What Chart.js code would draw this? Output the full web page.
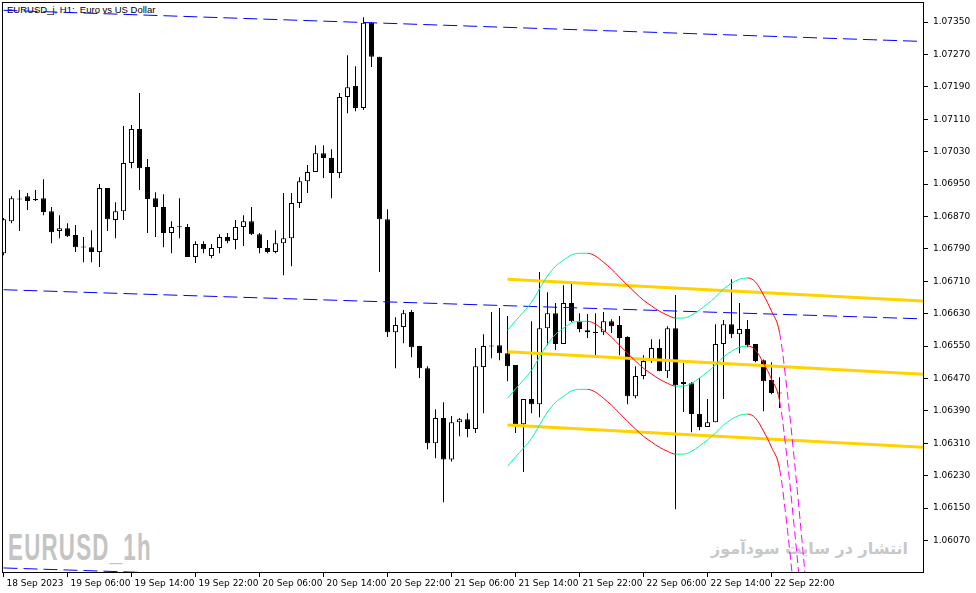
<!DOCTYPE html>
<html lang="en">
<head>
  <meta charset="UTF-8" />
  <title>EURUSD_j, H1</title>
  <script src="https://cdn.jsdelivr.net/npm/chart.js"></script>
  <style>
    * { box-sizing: border-box; }
    body { margin: 0; background: #fff; }
    #wrap { position: relative; width: 976px; height: 593px; overflow: hidden; }
    #wrap canvas { position: absolute; left: 0; top: 0; z-index: 2; }
    .txt { position: absolute; white-space: pre; z-index: 1; }
    #titulo { left: 7px; top: 4px; font: 9.5px 'Liberation Sans', sans-serif; color: #000; }
    #marca { left: 8px; top: 527px; font: bold 36px 'Liberation Sans', sans-serif; color: #c4c4c4;
             transform: scaleX(0.62); transform-origin: left top; letter-spacing: 2px; }
    #sitio { right: 68px; top: 539px; font: bold 16px 'DejaVu Sans', sans-serif; color: #c8c8c8; direction: rtl; }
  </style>
</head>
<body>
  <div id="wrap">
    <div class="txt" id="titulo">EURUSD_j, H1:  Euro vs US Dollar</div>
    <div class="txt" id="marca">EURUSD_1h</div>
    <div class="txt" id="sitio">انتشار در سایت سودآموز</div>
    <canvas id="grafico" width="976" height="593"></canvas>
  </div>

  <script>
    // hourly bars, index 0 = 18 Sep 2023 22:00
    const etiquetasTiempo = ['18 Sep 2023', '19 Sep 06:00', '19 Sep 14:00', '19 Sep 22:00', '20 Sep 06:00',
      '20 Sep 14:00', '20 Sep 22:00', '21 Sep 06:00', '21 Sep 14:00', '21 Sep 22:00', '22 Sep 06:00',
      '22 Sep 14:00', '22 Sep 22:00'];
    const indicesTiempo = [0, 8, 16, 24, 32, 40, 48, 56, 64, 72, 80, 88, 96];
    const ticksPrecio = [1.06070, 1.06150, 1.06230, 1.06310, 1.06390, 1.06470, 1.06550, 1.06630, 1.06710,
      1.06790, 1.06870, 1.06950, 1.07030, 1.07110, 1.07190, 1.07270, 1.07350];

    const apertura = [
      1.06779, 1.06858, 1.06913, 1.06920, 1.06913, 1.06915, 1.06883, 1.06834, 1.06841, 1.06824,
      1.06794, 1.06794, 1.06782, 1.06940, 1.06861, 1.06883, 1.07002, 1.07086, 1.06992, 1.06915,
      1.06893, 1.06829, 1.06844, 1.06844, 1.06770, 1.06802, 1.06772, 1.06792, 1.06819, 1.06812,
      1.06844, 1.06858, 1.06826, 1.06792, 1.06782, 1.06804, 1.06816, 1.06903, 1.06957, 1.06980,
      1.07026, 1.07014, 1.06977, 1.07165, 1.07192, 1.07138, 1.07348, 1.07264, 1.06863, 1.06584,
      1.06597, 1.06634, 1.06550, 1.06495, 1.06310, 1.06372, 1.06270, 1.06362, 1.06369, 1.06345,
      1.06498, 1.06550, 1.06552, 1.06532, 1.06503, 1.06357, 1.06419, 1.06406, 1.06594, 1.06631,
      1.06555, 1.06656, 1.06611, 1.06589, 1.06584, 1.06584, 1.06611, 1.06602, 1.06572, 1.06426,
      1.06476, 1.06513, 1.06545, 1.06488, 1.06594, 1.06456, 1.06458, 1.06382, 1.06350, 1.06362,
      1.06555, 1.06604, 1.06579, 1.06592, 1.06555, 1.06515, 1.06466, 1.06434];
    const maximo = [
      1.06866, 1.06920, 1.06935, 1.06928, 1.06935, 1.06962, 1.06893, 1.06873, 1.06853, 1.06849,
      1.06819, 1.06836, 1.06950, 1.06940, 1.06905, 1.07093, 1.07096, 1.07175, 1.07012, 1.06930,
      1.06925, 1.06858, 1.06915, 1.06851, 1.06809, 1.06809, 1.06802, 1.06826, 1.06829, 1.06861,
      1.06873, 1.06893, 1.06829, 1.06812, 1.06836, 1.06928, 1.06928, 1.06967, 1.06997, 1.07046,
      1.07046, 1.07036, 1.07175, 1.07268, 1.07241, 1.07362, 1.07350, 1.07264, 1.06888, 1.06621,
      1.06639, 1.06639, 1.06550, 1.06500, 1.06394, 1.06411, 1.06377, 1.06372, 1.06384, 1.06545,
      1.06579, 1.06634, 1.06644, 1.06624, 1.06503, 1.06419, 1.06611, 1.06733, 1.06683, 1.06656,
      1.06700, 1.06705, 1.06631, 1.06629, 1.06631, 1.06634, 1.06616, 1.06624, 1.06574, 1.06500,
      1.06527, 1.06567, 1.06567, 1.06599, 1.06676, 1.06508, 1.06461, 1.06471, 1.06419, 1.06604,
      1.06614, 1.06715, 1.06656, 1.06614, 1.06555, 1.06517, 1.06510, 1.06473];
    const minimo = [
      1.06774, 1.06853, 1.06834, 1.06886, 1.06908, 1.06873, 1.06804, 1.06816, 1.06819, 1.06782,
      1.06757, 1.06757, 1.06745, 1.06834, 1.06816, 1.06861, 1.06989, 1.06935, 1.06829, 1.06819,
      1.06794, 1.06779, 1.06816, 1.06770, 1.06755, 1.06779, 1.06767, 1.06779, 1.06804, 1.06789,
      1.06797, 1.06824, 1.06779, 1.06779, 1.06779, 1.06725, 1.06747, 1.06891, 1.06928, 1.06980,
      1.06965, 1.06915, 1.06965, 1.07125, 1.07130, 1.07133, 1.07239, 1.06733, 1.06572, 1.06495,
      1.06557, 1.06522, 1.06471, 1.06295, 1.06273, 1.06164, 1.06265, 1.06327, 1.06325, 1.06335,
      1.06384, 1.06520, 1.06515, 1.06463, 1.06335, 1.06239, 1.06384, 1.06374, 1.06552, 1.06540,
      1.06555, 1.06609, 1.06584, 1.06570, 1.06525, 1.06577, 1.06582, 1.06527, 1.06406, 1.06421,
      1.06468, 1.06508, 1.06488, 1.06471, 1.06147, 1.06387, 1.06337, 1.06342, 1.06350, 1.06362,
      1.06419, 1.06570, 1.06532, 1.06547, 1.06510, 1.06389, 1.06431, 1.06397];
    const cierre = [
      1.06863, 1.06915, 1.06912, 1.06908, 1.06910, 1.06881, 1.06831, 1.06841, 1.06821, 1.06794,
      1.06793, 1.06782, 1.06940, 1.06863, 1.06883, 1.07002, 1.07086, 1.06989, 1.06913, 1.06893,
      1.06829, 1.06844, 1.06843, 1.06770, 1.06802, 1.06789, 1.06792, 1.06819, 1.06809, 1.06844,
      1.06858, 1.06826, 1.06792, 1.06782, 1.06804, 1.06816, 1.06903, 1.06957, 1.06980, 1.07026,
      1.07014, 1.06977, 1.07165, 1.07189, 1.07138, 1.07348, 1.07264, 1.06863, 1.06584, 1.06602,
      1.06631, 1.06547, 1.06495, 1.06310, 1.06372, 1.06270, 1.06362, 1.06369, 1.06345, 1.06500,
      1.06550, 1.06549, 1.06532, 1.06500, 1.06357, 1.06419, 1.06406, 1.06594, 1.06631, 1.06555,
      1.06656, 1.06611, 1.06592, 1.06584, 1.06582, 1.06611, 1.06599, 1.06570, 1.06426, 1.06476,
      1.06513, 1.06545, 1.06488, 1.06594, 1.06453, 1.06461, 1.06382, 1.06350, 1.06362, 1.06555,
      1.06604, 1.06579, 1.06592, 1.06552, 1.06513, 1.06463, 1.06434, 1.06433];

    // blue equidistant channel (bar index -> price)
    const canalX = [0, 115];
    const canalArriba = [1.07379, 1.07302];
    const canalMedio = [1.06689, 1.06617];
    const canalAbajo = [1.06002, 1.05929];

    // yellow regression lines
    const amarilloX = [63, 115];
    const amarilloArriba = [1.06715, 1.06661];
    const amarilloMedio = [1.06536, 1.06480];
    const amarilloAbajo = [1.06355, 1.06300];

    // projection curves, from bar 63; after the last bar they are the forecast
    const curvaInicio = 63;
    const ultimaVela = 97;
    const curvaArriba = [1.06589, 1.06612, 1.06634, 1.06658, 1.06691, 1.06723, 1.06747, 1.06762, 1.06775, 1.06779,
      1.06779, 1.06772, 1.06757, 1.06740, 1.06720, 1.06700, 1.06681, 1.06663, 1.06649, 1.06636,
      1.06626, 1.06619, 1.06619, 1.06626, 1.06639, 1.06654, 1.06671, 1.06691, 1.06705, 1.06715,
      1.06718, 1.06708, 1.06676, 1.06636, 1.06584, 1.06431, 1.06239, 1.06029, 1.05806];
    const curvaMedia = [1.06421, 1.06444, 1.06466, 1.06490, 1.06523, 1.06555, 1.06579, 1.06594, 1.06607, 1.06611,
      1.06611, 1.06604, 1.06589, 1.06572, 1.06552, 1.06532, 1.06513, 1.06495, 1.06481, 1.06468,
      1.06458, 1.06451, 1.06451, 1.06458, 1.06471, 1.06486, 1.06503, 1.06523, 1.06537, 1.06547,
      1.06550, 1.06540, 1.06508, 1.06468, 1.06416, 1.06263, 1.06071, 1.05861, 1.05638];
    const curvaAbajo = [1.06253, 1.06276, 1.06298, 1.06322, 1.06355, 1.06387, 1.06411, 1.06426, 1.06439, 1.06443,
      1.06443, 1.06436, 1.06421, 1.06404, 1.06384, 1.06364, 1.06345, 1.06327, 1.06313, 1.06300,
      1.06290, 1.06283, 1.06283, 1.06290, 1.06303, 1.06318, 1.06335, 1.06355, 1.06369, 1.06379,
      1.06382, 1.06372, 1.06340, 1.06300, 1.06248, 1.06095, 1.05903, 1.05693, 1.05470];

    const fuente = { family: "'DejaVu Sans', sans-serif", size: 9 };

    function recta(xs, ys, color, ancho, dash) {
      return {
        type: 'line', data: xs.map((x, k) => ({ x, y: ys[k] })),
        borderColor: color, borderWidth: ancho, borderDash: dash || [],
        pointRadius: 0, order: 1
      };
    }

    function curva(ys) {
      return {
        type: 'line', data: ys.map((y, k) => ({ x: curvaInicio + k, y })),
        borderWidth: 1, pointRadius: 0, cubicInterpolationMode: 'monotone', order: 0,
        segment: {
          borderColor: c => c.p0.parsed.x >= ultimaVela ? '#ff00ff'
            : (c.p1.parsed.y < c.p0.parsed.y ? '#ff0000' : '#00fa9a'),
          borderDash: c => c.p0.parsed.x >= ultimaVela ? [8, 4] : undefined
        }
      };
    }

    const marco = {
      id: 'marco',
      afterDraw(chart) {
        const { ctx, chartArea: a } = chart;
        ctx.save();
        ctx.strokeStyle = '#000';
        ctx.lineWidth = 1;
        ctx.strokeRect(a.left - 0.5, a.top - 0.5, a.right - a.left + 1, a.bottom - a.top + 1);
        ctx.restore();
      }
    };

    new Chart(document.getElementById('grafico'), {
      type: 'bar',
      data: {
        datasets: [
          {
            type: 'bar', data: apertura.map((o, i) => ({ x: i, y: [minimo[i], maximo[i]] })),
            backgroundColor: '#000', barThickness: 1, grouped: false, inflateAmount: 0, order: 3
          },
          {
            type: 'bar',
            data: apertura.map((o, i) => ({ x: i, y: [Math.min(o, cierre[i]), Math.max(o, cierre[i])] })),
            backgroundColor: apertura.map((o, i) => cierre[i] > o ? '#fff' : '#000'),
            borderColor: '#000', borderWidth: 1, borderSkipped: false, barThickness: 5,
            minBarLength: 1, grouped: false, inflateAmount: 0, order: 2
          },
          recta(canalX, canalArriba, '#0000ff', 1, [14, 6]),
          recta(canalX, canalMedio, '#0000ff', 1, [14, 6]),
          recta(canalX, canalAbajo, '#0000ff', 1, [14, 6]),
          recta(amarilloX, amarilloArriba, '#ffd200', 3),
          recta(amarilloX, amarilloMedio, '#ffd200', 3),
          recta(amarilloX, amarilloAbajo, '#ffd200', 3),
          curva(curvaArriba),
          curva(curvaMedia),
          curva(curvaAbajo)
        ]
      },
      options: {
        responsive: false,
        animation: false,
        events: [],
        layout: { padding: { left: 3, top: 3, right: 0, bottom: 0 } },
        plugins: { legend: { display: false }, tooltip: { enabled: false } },
        scales: {
          x: {
            type: 'linear', min: -0.0625, max: 114.9375, offset: false,
            afterBuildTicks: s => { s.ticks = indicesTiempo.map(v => ({ value: v })); },
            afterFit: s => { s.height = 21; s.paddingLeft = 0; s.paddingRight = 0; },
            grid: { drawOnChartArea: false, offset: false, color: '#000', tickLength: 5 },
            border: { display: false },
            ticks: {
              autoSkip: false, maxRotation: 0, align: 'start', labelOffset: 3, padding: 1,
              color: '#000', font: fuente,
              callback: v => etiquetasTiempo[indicesTiempo.indexOf(v)]
            }
          },
          y: {
            position: 'right', min: 1.05992, max: 1.07397,
            afterBuildTicks: s => { s.ticks = ticksPrecio.map(v => ({ value: v })); },
            afterFit: s => { s.width = 53; s.paddingTop = 0; s.paddingBottom = 0; },
            grid: { drawOnChartArea: false, color: '#000', tickLength: 5 },
            border: { display: false },
            ticks: { color: '#000', font: fuente, padding: 5, callback: v => v.toFixed(5) }
          }
        }
      },
      plugins: [marco]
    });
  </script>
</body>
</html>
